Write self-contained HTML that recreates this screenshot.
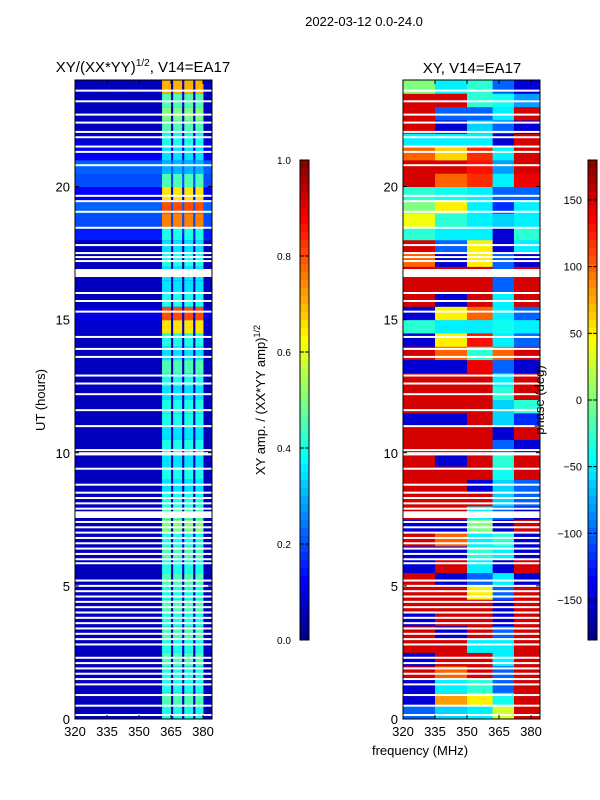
<!DOCTYPE html>
<html><head><meta charset="utf-8">
<style>
body{margin:0;background:#fff;}
svg{display:block;font-family:"Liberation Sans",sans-serif;}
</style></head>
<body>
<svg id="fig" width="600" height="800">
  <text x="364" y="26" font-size="13" text-anchor="middle">2022-03-12 0.0-24.0</text>
  <text x="143" y="72" font-size="15" text-anchor="middle">XY/(XX*YY)<tspan font-size="10" dy="-6">1/2</tspan><tspan dy="6">, V14=EA17</tspan></text>
  <text x="472" y="73" font-size="15" text-anchor="middle">XY, V14=EA17</text>
  <text transform="translate(45,400) rotate(-90)" font-size="13" text-anchor="middle">UT (hours)</text>
  <text transform="translate(265,400) rotate(-90)" font-size="13" text-anchor="middle">XY amp. / (XX*YY amp)<tspan font-size="9" dy="-5">1/2</tspan></text>
  <text x="420" y="755" font-size="13" text-anchor="middle">frequency (MHz)</text>
  <g id="left"></g>
  <g id="right"></g>
  <g id="axes"></g>
  <text transform="translate(544,400) rotate(-90)" font-size="13" text-anchor="middle">phase (deg)</text>
</svg>
<script>
// data: half-hour rows from UT 0 to 24
const phaseRows = [
 [-100,-60,-50,30,150],[-150,80,50,-40,150],[-150,-50,-30,-100,150],[150,100,150,-100,150],
 [-150,150,150,-50,150],[150,150,-50,-50,150],[150,-150,150,-100,150],[-150,150,150,-150,150],
 [150,150,150,-150,150],[150,150,50,-100,150],[150,-150,-100,-50,-150],[-150,150,-50,-150,150],
 [-150,-150,-30,-50,-150],[150,100,-50,-30,-150],[-150,-150,0,-150,150],[150,150,-50,-100,-150],
 [150,150,150,-60,-100],[150,150,-150,-60,-100],[150,150,150,-40,150],[150,-150,150,-30,150],
 [150,150,150,-100,-150],[150,150,150,-150,150],[-150,-150,150,-60,-120],[150,150,150,-60,-30],
 [150,150,150,-30,150],[150,150,150,-50,150],[-150,-150,140,-100,-150],[150,100,-30,100,150],
 [-150,50,130,-50,-100],[-30,-50,-50,-40,-50],[-150,50,100,-50,-100],[150,-150,150,-50,150],
 [150,150,150,-100,150],[150,150,150,-100,150],[100,-150,50,-100,-150],[150,-100,50,-150,-50],
 [-30,-50,-50,-150,-30],[40,-30,-50,-60,-50],[0,50,-50,-120,-50],[-30,-40,-50,-100,-100],
 [150,100,120,-50,140],[150,150,130,-80,150],[100,60,120,-50,150],[-50,-50,-50,-150,150],
 [150,-150,-60,-100,-150],[150,-100,-100,-50,150],[150,150,-30,-40,-80],[0,-50,-30,-100,-150]
];
const phaseFreqEdges = [320,335,350,362,372,384.2];
const ampBright = [0.4,0.45,0.4,0.4,0.45,0.4,0.45,0.4,0.45,0.4,0.45,0.4,0.45,0.4,0.5,0.45,0.4,0.35,0.4,0.35,0.4,0.35,0.4,0.4,0.35,0.4,0.45,0.35,0.4,0.65,0.8,0.4,0.35,0.35,0.4,0.35,0.4,0.75,0.8,0.65,0.45,0.3,0.35,0.4,0.45,0.5,0.45,0.7];
const ampBackground = [0.06,0.06,0.06,0.06,0.06,0.06,0.06,0.06,0.06,0.06,0.06,0.06,0.06,0.06,0.06,0.06,0.06,0.06,0.06,0.06,0.06,0.06,0.06,0.06,0.06,0.06,0.06,0.06,0.06,0.08,0.1,0.06,0.06,0.06,0.06,0.06,0.15,0.2,0.22,0.12,0.2,0.22,0.12,0.08,0.06,0.06,0.06,0.06];
const brightStrips = [[360.8,365],[366,370.2],[371.2,375.4],[376.4,380.2]];
const gapTimes = [23.6,23.2,22.7,22.4,22.05,21.85,21.5,21.3,20.8,19.65,19.45,19.05,18.45,17.8,17.5,17.35,17.2,16.0,15.7,15.3,14.35,13.9,13.6,12.9,12.6,12.2,11.6,11.0,10.1,9.4,8.8,8.5,8.3,8.1,7.9,7.4,7.2,7.0,6.8,6.6,6.4,6.2,6.0,5.85,5.2,5.0,4.8,4.6,4.4,4.2,4.0,3.8,3.6,3.4,3.2,3.0,2.8,2.3,2.1,1.9,1.7,1.5,1.3,0.9,0.5,0.15];
const bigGaps = [[16.6,0.3],[7.55,0.25],[9.9,0.12]];
const freqTicks = [320,335,350,365,380];
const utTicks = [0,5,10,15,20];
const ampTicks = [0.0,0.2,0.4,0.6,0.8,1.0];
const phaseTicks = [-150,-100,-50,0,50,100,150];

const NS="http://www.w3.org/2000/svg";
const yT = 80, yB = 719;
const yUT = u => yB - (u/24)*(yB-yT);
function xF(x0,x1){return f => x0 + (f-320)/(384.2-320)*(x1-x0);}
const xL = xF(75,212), xR = xF(403,540);
function jet(v){v=Math.max(0,Math.min(1,v));
 const r=Math.max(0,Math.min(1,1.5-Math.abs(4*v-3))),g=Math.max(0,Math.min(1,1.5-Math.abs(4*v-2))),b=Math.max(0,Math.min(1,1.5-Math.abs(4*v-1)));
 return `rgb(${Math.round(r*255)},${Math.round(g*255)},${Math.round(b*255)})`;}
function mk(tag,at,parent){const e=document.createElementNS(NS,tag);for(const k in at)e.setAttribute(k,at[k]);parent.appendChild(e);return e;}
const L=document.getElementById('left'),R=document.getElementById('right'),A=document.getElementById('axes');

for(let i=0;i<48;i++){
 const y0=yUT((i+1)*0.5), h=yUT(i*0.5)-y0;
 let r=mk('rect',{x:75,y:y0,width:137,height:h+0.5,fill:jet(ampBackground[i])},L);
 
 
 brightStrips.forEach(s=>{
  let c=mk('rect',{x:xL(s[0]),y:y0,width:xL(s[1])-xL(s[0]),height:h+0.5,fill:jet(ampBright[i])},L);
  
  
 });
 for(let j=0;j<5;j++){
  const x0=xR(phaseFreqEdges[j]),x1=xR(phaseFreqEdges[j+1]);
  let c=mk('rect',{x:x0,y:y0,width:x1-x0+0.5,height:h+0.5,fill:jet((phaseRows[i][j]+180)/360)},R);
  
  
 }
}
[[L,75],[R,403]].forEach(([g,x])=>{
 gapTimes.forEach(t=>{let w=mk('rect',{x:x,y:yUT(t)-1,width:137,height:2,fill:'#fff'},g);
  
  });
 bigGaps.forEach(b=>{let w=mk('rect',{x:x,y:yUT(b[0]+b[1]),width:137,height:yUT(b[0])-yUT(b[0]+b[1]),fill:'#fff'},g);
  
  });
});
[[75,xL],[403,xR]].forEach(([x,fx])=>{
 let f=mk('rect',{x:x,y:yT,width:137,height:yB-yT,fill:'none',stroke:'#000','stroke-width':1},A);
 
 
 freqTicks.forEach(v=>{
  mk('line',{x1:fx(v),x2:fx(v),y1:yB,y2:yB-4,stroke:'#000'},A);
  mk('line',{x1:fx(v),x2:fx(v),y1:yT,y2:yT+4,stroke:'#000'},A);
  let t=mk('text',{x:fx(v),y:yB+17,'font-size':13,'text-anchor':'middle'},A);t.textContent=v;
  
  
 });
 utTicks.forEach(v=>{
  mk('line',{x1:x,x2:x+4,y1:yUT(v),y2:yUT(v),stroke:'#000'},A);
  mk('line',{x1:x+137,x2:x+133,y1:yUT(v),y2:yUT(v),stroke:'#000'},A);
  let t=mk('text',{x:x-5,y:yUT(v)+5,'font-size':13,'text-anchor':'end'},A);t.textContent=v;
  
  
 });
});
function cbar(x,lo,hi,ticks,name,fmt,labelLeft){
 const N=60,h=480/N;
 for(let k=0;k<N;k++){mk('rect',{x:x,y:160+k*h,width:9,height:h+0.5,fill:jet(1-(k+0.5)/N)},A);}
 let f=mk('rect',{x:x,y:160,width:9,height:480,fill:'none',stroke:'#000'},A);
 
 
 ticks.forEach(v=>{const y=640-(v-lo)/(hi-lo)*480;
  mk('line',{x1:x+9,x2:x+5,y1:y,y2:y,stroke:'#000'},A);
  mk('line',{x1:x,x2:x+4,y1:y,y2:y,stroke:'#000'},A);
  let t=mk('text',labelLeft?{x:x-6,y:y+4,'font-size':11,'text-anchor':'end'}:{x:x-23,y:y+4,'font-size':10},A);
  t.textContent=fmt?v.toFixed(1):String(v).replace('-','\u2212');
  
  });
}
cbar(300,0,1,ampTicks,'amp-colorbar',true,false);
cbar(588,-180,180,phaseTicks,'phase-colorbar',false,true);
</script>
</body></html>
